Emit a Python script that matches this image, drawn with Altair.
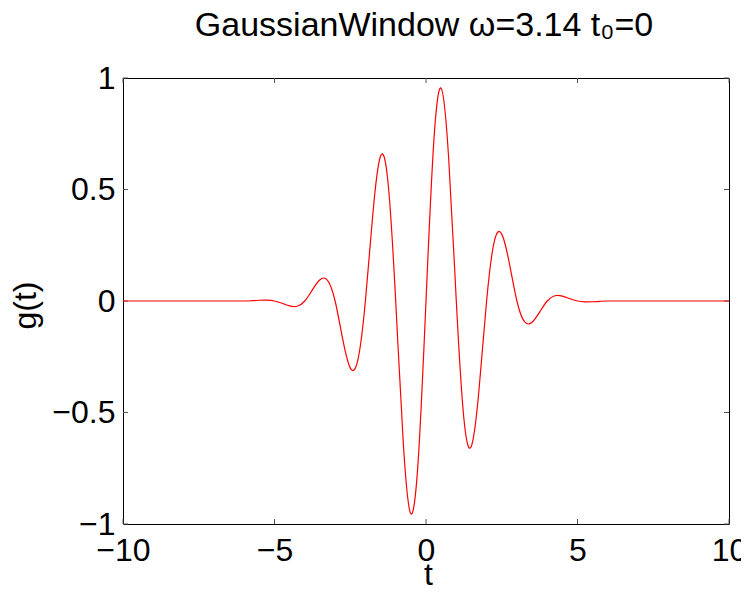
import altair as alt
import pandas as pd

# Samples of the curve
t_vals = [-10, -9, -8, -7, -6, -5.75, -5.5, -5.25, -5, -4.75, -4.5, -4.25, -4, -3.75, -3.5, -3.25, -3,
          -2.75, -2.5, -2.25, -2, -1.75, -1.5, -1.25, -1, -0.75, -0.5, -0.25, 0,
          0.25, 0.5, 0.75, 1, 1.25, 1.5, 1.75, 2, 2.25, 2.5, 2.75, 3, 3.25, 3.5, 3.75, 4,
          4.25, 4.5, 4.75, 5, 5.25, 5.5, 5.75, 6, 7, 8, 9, 10]
g_vals = [0, 0, 0, 0, 0, 0.0014, 0.0033, 0.0039, 0, -0.0100, -0.0219, -0.0234, 0, 0.0498, 0.095, 0.0930, 0,
          -0.170, -0.300, -0.265, 0, 0.397, 0.650, 0.527, 0, -0.636, -0.954, -0.699, 0,
          0.699, 0.954, 0.636, 0, -0.527, -0.650, -0.397, 0, 0.265, 0.300, 0.170, 0, -0.0930, -0.095, -0.0498, 0,
          0.0234, 0.0219, 0.0100, 0, -0.0039, -0.0033, -0.0014, 0, 0, 0, 0, 0]
x_ticks = [-10, -5, 0, 5, 10]
y_ticks = [-1, -0.5, 0, 0.5, 1]
title_text = "GaussianWindow ω=3.14 t₀=0"
x_title = "t"
y_title = "g(t)"

W, H = 606, 446
FONT = "Liberation Sans"
FS = 32
TICK = "#555555"

df = pd.DataFrame({"t": t_vals, "g": g_vals})
xs = alt.Scale(domain=[-10, 10], nice=False, zero=False)
ys = alt.Scale(domain=[-1, 1], nice=False, zero=False)

x_axis = alt.Axis(values=x_ticks, ticks=False, tickSize=0, domain=False, grid=False,
                  labelFontSize=FS, labelFont=FONT, labelColor="black", labelPadding=11,
                  labelFlush=False, labelOverlap=False, format="~r",
                  title=x_title, titleFontSize=FS, titleFont=FONT, titleFontWeight="normal",
                  titleColor="black", titleBaseline="alphabetic", titleY=60, titleX=W / 2 + 2)
y_axis = alt.Axis(values=y_ticks, ticks=False, tickSize=0, domain=False, grid=False,
                  labelFontSize=FS, labelFont=FONT, labelColor="black", labelPadding=8,
                  labelFlush=False, labelOverlap=False, format="~r",
                  title=y_title, titleFontSize=FS, titleFont=FONT, titleFontWeight="normal",
                  titleColor="black", titleAngle=-90, titleBaseline="middle", titleAlign="center",
                  titleX=-98, titleY=H / 2 + 4)

line = alt.Chart(df).mark_line(color="#ff0000", strokeWidth=1.2, interpolate="natural").encode(
    x=alt.X("t:Q", scale=xs, axis=x_axis),
    y=alt.Y("g:Q", scale=ys, axis=y_axis),
)

xdf = pd.DataFrame({"t": x_ticks})
ydf = pd.DataFrame({"g": y_ticks})
xt_bottom = alt.Chart(xdf).mark_rule(color=TICK, strokeWidth=1).encode(
    x=alt.X("t:Q", scale=xs, axis=x_axis), y=alt.value(H), y2=alt.value(H - 5))
xt_top = alt.Chart(xdf).mark_rule(color=TICK, strokeWidth=1).encode(
    x=alt.X("t:Q", scale=xs, axis=x_axis), y=alt.value(0), y2=alt.value(5))
yt_left = alt.Chart(ydf).mark_rule(color=TICK, strokeWidth=1).encode(
    y=alt.Y("g:Q", scale=ys, axis=y_axis), x=alt.value(0), x2=alt.value(5))
yt_right = alt.Chart(ydf).mark_rule(color=TICK, strokeWidth=1).encode(
    y=alt.Y("g:Q", scale=ys, axis=y_axis), x=alt.value(W), x2=alt.value(W - 5))

ttl = alt.Chart(pd.DataFrame({"label": [title_text]})).mark_text(
    fontSize=34, font=FONT, baseline="alphabetic", align="center", color="black"
).encode(text="label:N", x=alt.value(W / 2 - 2), y=alt.value(-42))

chart = alt.layer(xt_bottom, xt_top, yt_left, yt_right, line, ttl).properties(
    width=W, height=H, autosize="none",
    padding={"left": 115, "top": 70, "right": 12, "bottom": 61},
).configure_view(stroke="black", strokeWidth=1)

chart.save("out.html", embed_options={"renderer": "svg", "actions": False})
